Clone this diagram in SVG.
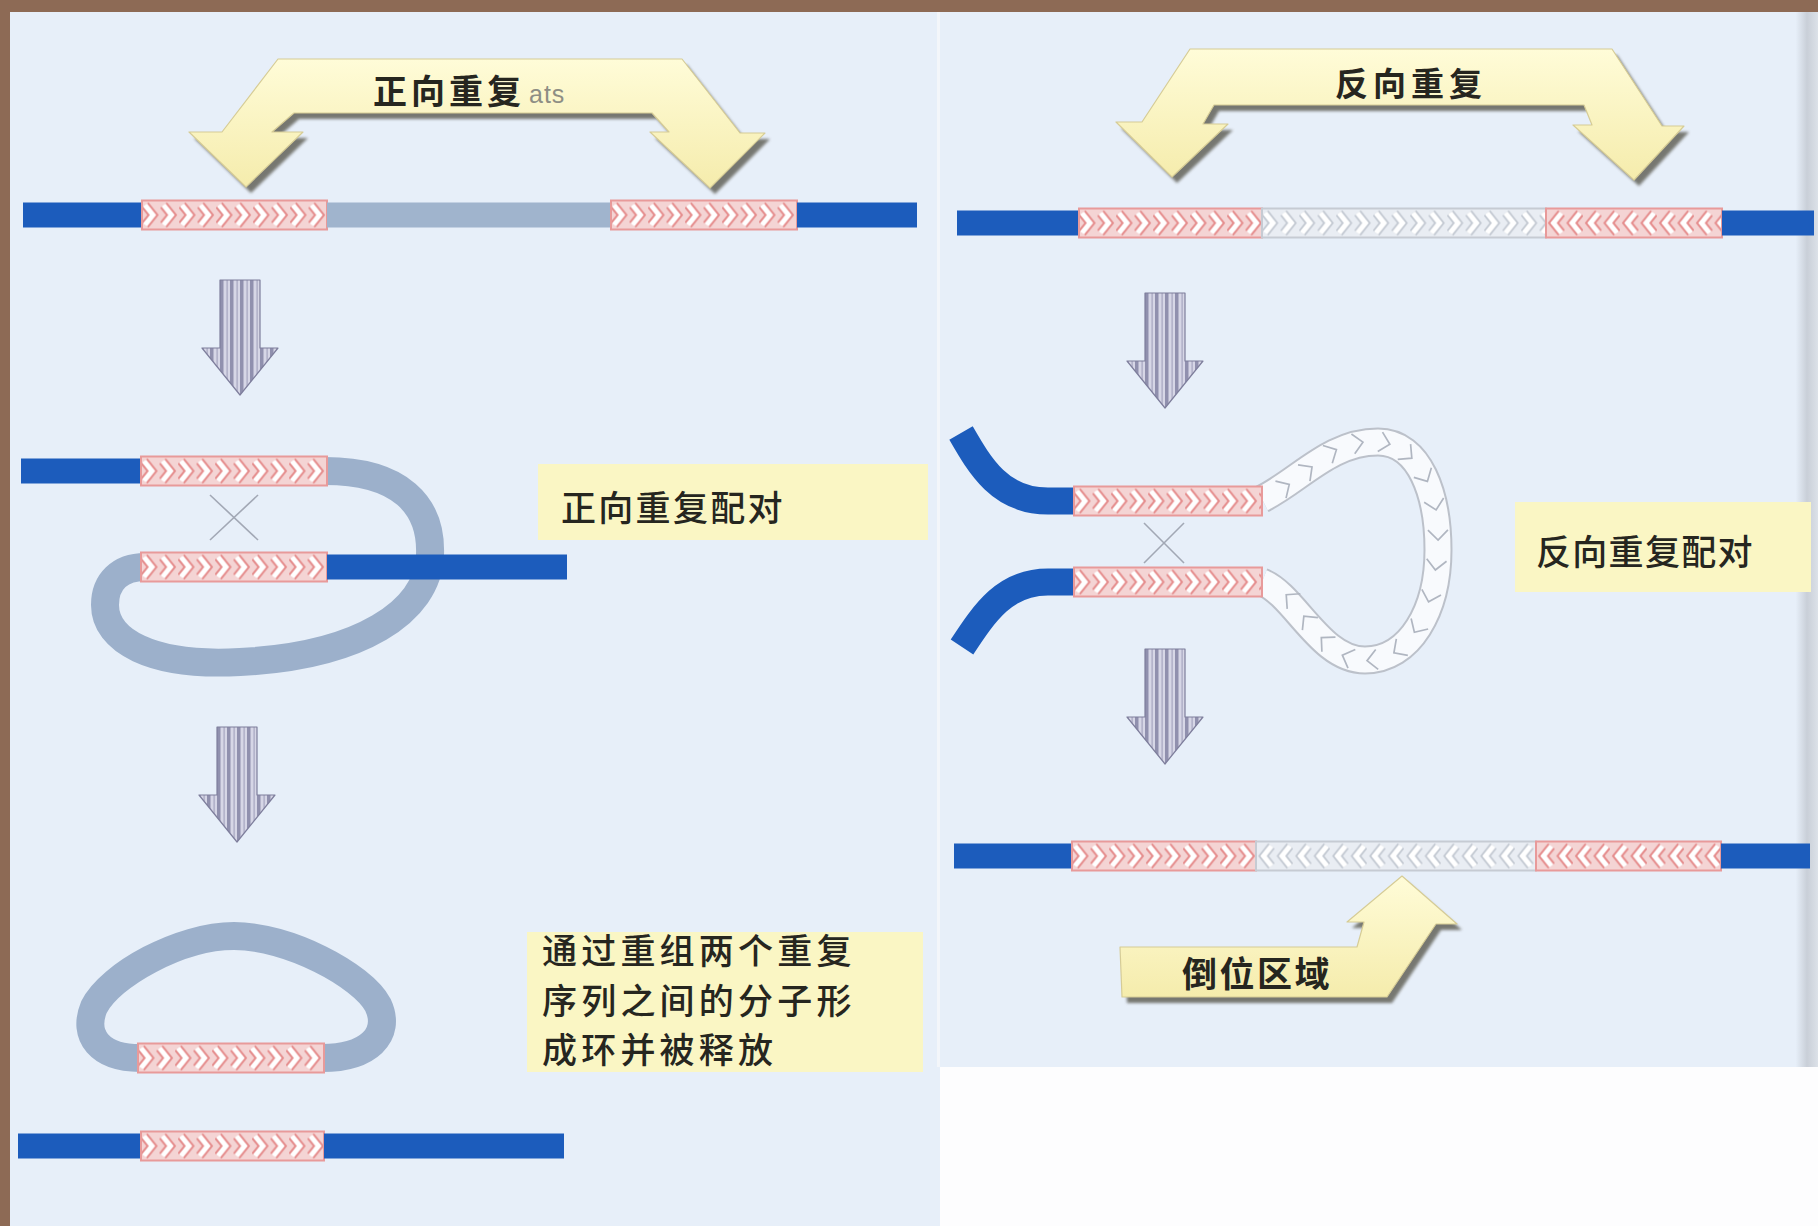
<svg xmlns="http://www.w3.org/2000/svg" width="1818" height="1226" viewBox="0 0 1818 1226">
  <defs>
    <style>
      .dna { fill:#1C5CBC; }
      .lbl { fill:#FAF6C4; }
      .txt { font-family:"Noto Sans CJK SC","Noto Sans",sans-serif; fill:#26261F; font-weight:500; }
      .bold { font-weight:bold; }
      .xline { stroke:#A2A8B5; stroke-width:1.6; fill:none; }
      .yarrow { fill:url(#yellowGrad); stroke:#D6CC96; stroke-width:1.2; stroke-linejoin:round; }
      .yshadow { fill:#63645A; opacity:0.85; filter:url(#soft); }
      .loopGray { fill:none; stroke:#9CB0CB; stroke-width:28; stroke-linejoin:round; }
      .strand { fill:none; stroke:#1C5CBC; stroke-width:27; }
      .redBox { stroke:#E89A9A; stroke-width:2; }
      .whiteBox { stroke:#C6CBD3; stroke-width:2; }
    </style>
    <linearGradient id="yellowGrad" x1="0" y1="0" x2="0" y2="1">
      <stop offset="0" stop-color="#FFFCD8"/>
      <stop offset="1" stop-color="#F5ECAC"/>
    </linearGradient>
    <linearGradient id="edgeGrad" x1="0" y1="0" x2="1" y2="0">
      <stop offset="0" stop-color="#E6EEF8"/>
      <stop offset="0.5" stop-color="#C9CFD8"/>
      <stop offset="1" stop-color="#DCE1E8"/>
    </linearGradient>
    <filter id="soft" x="-10%" y="-10%" width="120%" height="130%">
      <feGaussianBlur stdDeviation="1.8"/>
    </filter>
    <!-- repeat segment: chevrons pointing right -->
    <pattern id="chevR" width="18.5" height="29" patternUnits="userSpaceOnUse">
      <rect width="18.5" height="29" fill="#F4D4D4"/>
      <polyline points="3,4.5 11,14.5 3,24.5" fill="none" stroke="#E58C8C" stroke-width="9"/>
      <polyline points="3,4.5 11,14.5 3,24.5" fill="none" stroke="#FFFFFF" stroke-width="5"/>
    </pattern>
    <!-- repeat segment: chevrons pointing left -->
    <pattern id="chevL" width="18.5" height="29" patternUnits="userSpaceOnUse">
      <rect width="18.5" height="29" fill="#F4D4D4"/>
      <polyline points="15.5,4.5 7.5,14.5 15.5,24.5" fill="none" stroke="#E58C8C" stroke-width="9"/>
      <polyline points="15.5,4.5 7.5,14.5 15.5,24.5" fill="none" stroke="#FFFFFF" stroke-width="5"/>
    </pattern>
    <!-- intervening region, pale -->
    <pattern id="paleR" width="18.5" height="29" patternUnits="userSpaceOnUse">
      <rect width="18.5" height="29" fill="#E9EDF3"/>
      <polyline points="3,4.5 11,14.5 3,24.5" fill="none" stroke="#C3C9D2" stroke-width="8.5"/>
      <polyline points="3,4.5 11,14.5 3,24.5" fill="none" stroke="#FFFFFF" stroke-width="5"/>
    </pattern>
    <pattern id="paleL" width="18.5" height="29" patternUnits="userSpaceOnUse">
      <rect width="18.5" height="29" fill="#E9EDF3"/>
      <polyline points="15.5,4.5 7.5,14.5 15.5,24.5" fill="none" stroke="#C3C9D2" stroke-width="8.5"/>
      <polyline points="15.5,4.5 7.5,14.5 15.5,24.5" fill="none" stroke="#FFFFFF" stroke-width="5"/>
    </pattern>
    <!-- striped step arrow -->
    <pattern id="stripes" width="10" height="20" patternUnits="userSpaceOnUse">
      <rect width="10" height="20" fill="#D6D6E6"/>
      <rect width="3.5" height="20" fill="#9090AE"/>
      <rect x="6.5" width="1.2" height="20" fill="#A6A6C0"/>
    </pattern>
    <g id="stepArrow">
      <polygon points="-20,0 20,0 20,68 38,68 0,115 -38,68 -20,68" fill="url(#stripes)" stroke="#7E7E9C" stroke-width="1.2" stroke-linejoin="round"/>
    </g>
    <marker id="loopChevron" markerWidth="24" markerHeight="24" markerUnits="userSpaceOnUse" orient="auto" overflow="visible">
      <path d="M-5,-10 L5,0 L-5,10" fill="none" stroke="#B0B6C1" stroke-width="1.7"/>
    </marker>
  </defs>

  <!-- page and panels -->
  <g id="frame">
    <rect width="1818" height="1226" fill="#8D6A55"/>
    <rect x="10" y="12" width="930" height="1214" fill="#E7EFF9"/>
    <rect x="940" y="12" width="878" height="1055" fill="#E7EFF9"/>
    <rect x="940" y="1067" width="878" height="159" fill="#FDFDFE"/>
    <rect x="1796" y="12" width="22" height="1055" fill="url(#edgeGrad)"/>
    <line x1="938.5" y1="12" x2="938.5" y2="1067" stroke="#F3F6FA" stroke-width="3"/>
  </g>

  <!-- ===== direct repeats (left) ===== -->
  <g id="direct-repeats-banner">
    <polygon class="yshadow" transform="translate(5,6)" points="278,59 682,59 740,133 765,133 710,188 650,132 669,132 652,113 294,113 272,132 303,132 246,187 189,132 222,132"/>
    <polygon class="yarrow" points="278,59 682,59 740,133 765,133 710,188 650,132 669,132 652,113 294,113 272,132 303,132 246,187 189,132 222,132"/>
    <text class="txt bold" x="373" y="104" font-size="34" letter-spacing="4">正向重复</text>
    <text x="529" y="103" font-family="'Liberation Sans',Arial,sans-serif" font-size="25" letter-spacing="1" fill="#8E8E84">ats</text>
  </g>

  <g id="dna-direct-initial">
    <rect class="dna" x="23" y="202.5" width="119" height="25"/>
    <g transform="translate(142,200.5)"><rect class="redBox" width="185" height="29" fill="url(#chevR)"/></g>
    <rect x="327" y="202.5" width="284" height="25" fill="#A0B4CD"/>
    <g transform="translate(611,200.5)"><rect class="redBox" width="186" height="29" fill="url(#chevR)"/></g>
    <rect class="dna" x="797" y="202.5" width="120" height="25"/>
  </g>

  <g id="dna-direct-paired">
    <path class="loopGray" d="M325,471 C400,471 432,505 430,555 C428,612 360,656 240,662 C150,667 105,640 105,605 C105,582 120,567 145,567"/>
    <rect class="dna" x="21" y="458.5" width="120" height="25"/>
    <g transform="translate(141,456.5)"><rect class="redBox" width="186" height="29" fill="url(#chevR)"/></g>
    <g transform="translate(141,552.5)"><rect class="redBox" width="186" height="29" fill="url(#chevR)"/></g>
    <rect class="dna" x="327" y="554.5" width="240" height="25"/>
    <line class="xline" x1="210" y1="495" x2="258" y2="540"/>
    <line class="xline" x1="258" y1="495" x2="210" y2="540"/>
  </g>

  <g id="label-direct-paired">
    <rect class="lbl" x="538" y="464" width="390" height="76"/>
    <text class="txt" x="561" y="521" font-size="35" letter-spacing="2.3">正向重复配对</text>
  </g>

  <g id="dna-direct-circle">
    <path class="loopGray" d="M140,1058 C100,1058 82,1036 94,1007 C110,975 180,936 234,936 C288,936 362,975 378,1005 C392,1035 368,1058 322,1058"/>
    <g transform="translate(138,1043.5)"><rect class="redBox" width="186" height="29" fill="url(#chevR)"/></g>
  </g>

  <g id="label-excised">
    <rect class="lbl" x="527" y="932" width="396" height="140"/>
    <text class="txt" font-size="35" letter-spacing="4.2">
      <tspan x="542" y="964">通过重组两个重复</tspan>
      <tspan x="542" y="1014">序列之间的分子形</tspan>
      <tspan x="542" y="1063">成环并被释放</tspan>
    </text>
  </g>

  <g id="dna-direct-result">
    <rect class="dna" x="18" y="1133.5" width="123" height="25"/>
    <g transform="translate(141,1131.5)"><rect class="redBox" width="183" height="29" fill="url(#chevR)"/></g>
    <rect class="dna" x="324" y="1133.5" width="240" height="25"/>
  </g>

  <!-- ===== inverted repeats (right) ===== -->
  <g id="inverted-repeats-banner">
    <polygon class="yshadow" transform="translate(5,6)" points="1190,49 1612,49 1662,126 1684,126 1634,180 1573,125 1592,125 1584,105 1214,105 1203,124 1228,124 1172,177 1116,122 1142,122"/>
    <polygon class="yarrow" points="1190,49 1612,49 1662,126 1684,126 1634,180 1573,125 1592,125 1584,105 1214,105 1203,124 1228,124 1172,177 1116,122 1142,122"/>
    <text class="txt bold" x="1335" y="96" font-size="33" letter-spacing="5">反向重复</text>
  </g>

  <g id="dna-inverted-initial">
    <rect class="dna" x="957" y="210.5" width="122" height="25"/>
    <g transform="translate(1079,208.5)"><rect class="redBox" width="183" height="29" fill="url(#chevR)"/></g>
    <g transform="translate(1262,208.5)"><rect class="whiteBox" width="284" height="29" fill="url(#paleR)"/></g>
    <g transform="translate(1546,208.5)"><rect class="redBox" width="176" height="29" fill="url(#chevL)"/></g>
    <rect class="dna" x="1722" y="210.5" width="92" height="25"/>
  </g>

  <g id="dna-inverted-paired">
    <path class="strand" d="M961,433 C980,466 1000,501 1048,501 L1076,501"/>
    <path class="strand" d="M1076,582 L1048,582 C1005,582 985,612 962,647"/>
    <path d="M1262,499 C1300,480 1330,442 1378,442 C1420,442 1438,495 1438,550 C1438,610 1410,660 1365,660 C1320,660 1295,595 1262,582" fill="none" stroke="#BCC1CA" stroke-width="29"/>
    <path d="M1262,499 C1300,480 1330,442 1378,442 C1420,442 1438,495 1438,550 C1438,610 1410,660 1365,660 C1320,660 1295,595 1262,582" fill="none" stroke="#F8FAFD" stroke-width="25"/>
    <polyline points="1262,499 1285,487 1308,470 1332,452 1358,443 1385,443 1408,455 1425,477 1435,505 1438,535 1436,565 1430,597 1417,628 1398,650 1372,660 1347,657 1325,641 1307,620 1290,598 1262,582" fill="none" stroke="none" marker-mid="url(#loopChevron)"/>
    <g transform="translate(1074,486.5)"><rect class="redBox" width="188" height="29" fill="url(#chevR)"/></g>
    <g transform="translate(1074,567.5)"><rect class="redBox" width="188" height="29" fill="url(#chevR)"/></g>
    <line class="xline" x1="1144" y1="523" x2="1184" y2="563"/>
    <line class="xline" x1="1184" y1="523" x2="1144" y2="563"/>
  </g>

  <g id="label-inverted-paired">
    <rect class="lbl" x="1515" y="502" width="296" height="90"/>
    <text class="txt" x="1536" y="565" font-size="35" letter-spacing="1.3">反向重复配对</text>
  </g>

  <g id="dna-inverted-result">
    <rect class="dna" x="954" y="843.5" width="118" height="25"/>
    <g transform="translate(1072,841.5)"><rect class="redBox" width="184" height="29" fill="url(#chevR)"/></g>
    <g transform="translate(1256,841.5)"><rect class="whiteBox" width="280" height="29" fill="url(#paleL)"/></g>
    <g transform="translate(1536,841.5)"><rect class="redBox" width="185" height="29" fill="url(#chevL)"/></g>
    <rect class="dna" x="1721" y="843.5" width="89" height="25"/>
  </g>

  <g id="inversion-banner">
    <polygon class="yshadow" transform="translate(5,6)" points="1120,947 1357,947 1364,922 1347,922 1402,876 1457,924 1436,924 1387,997 1122,997"/>
    <polygon class="yarrow" points="1120,947 1357,947 1364,922 1347,922 1402,876 1457,924 1436,924 1387,997 1122,997"/>
    <text class="txt bold" x="1182" y="987" font-size="35" letter-spacing="2.5">倒位区域</text>
  </g>

  <!-- step arrows between stages -->
  <g id="connectors">
    <use href="#stepArrow" transform="translate(240,280)"/>
    <use href="#stepArrow" transform="translate(237,727)"/>
    <use href="#stepArrow" transform="translate(1165,293)"/>
    <use href="#stepArrow" transform="translate(1165,649)"/>
  </g>
</svg>
